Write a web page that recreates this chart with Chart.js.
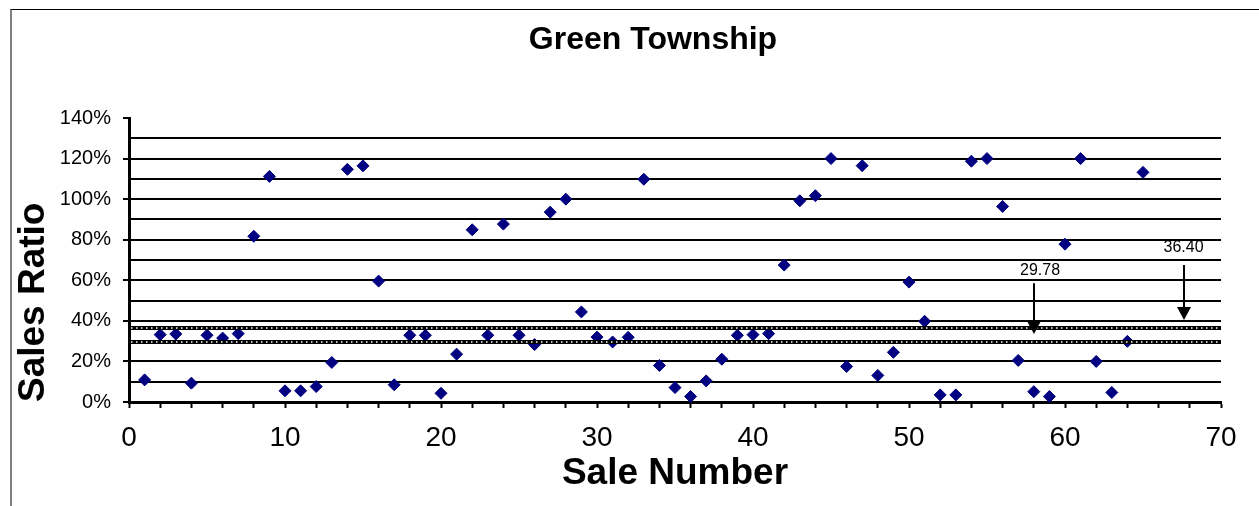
<!DOCTYPE html>
<html><head><meta charset="utf-8">
<script src="https://cdn.jsdelivr.net/npm/chart.js@4/dist/chart.umd.min.js"></script>
<style>
html,body{margin:0;padding:0;background:#fff;overflow:hidden;}
#wrap{position:relative;width:1259px;height:506px;overflow:hidden;}
#frame{position:absolute;left:10px;top:9px;width:1300px;height:600px;border-left:2px solid #808080;border-top:1px solid #000;pointer-events:none;}
canvas{position:absolute;left:0;top:0;}
</style></head><body>
<div id="wrap"><div id="frame"></div><canvas id="c" width="1259" height="506"></canvas></div>
<script>
const chartTitle = 'Green Township';
const xAxisTitle = 'Sale Number';
const yAxisTitle = 'Sales Ratio';

const saleNumbers = [1,2,3,4,5,6,7,8,9,10,11,12,13,14,15,16,17,18,19,20,
  21,22,23,24,25,26,27,28,29,30,31,32,33,34,35,36,37,38,39,40,
  41,42,43,44,45,46,47,48,49,50,51,52,53,54,55,56,57,58,59,60,
  61,62,63,64,65];
const salesRatios = [10.9,33.2,33.5,9.3,32.9,31.5,33.7,81.7,111.2,5.5,
  5.5,7.6,19.5,114.7,116.4,59.6,8.5,32.9,32.9,4.3,
  23.6,84.9,32.9,87.7,32.9,28.3,93.6,100.0,44.4,32.0,
  29.6,31.9,109.8,18.0,7.1,2.7,10.4,21.1,32.9,33.2,
  33.7,67.5,99.2,101.7,120.0,17.5,116.5,13.1,24.5,59.1,
  39.8,3.5,3.5,118.7,120.0,96.4,20.5,5.1,2.7,77.8,
  120.0,20.0,4.7,29.9,113.2];

const xLabelValues = [0,10,20,30,40,50,60,70];
const yLabelValues = [0,20,40,60,80,100,120,140];

const medianValues = [29.78, 36.40];
const medianLabels = ['29.78', '36.40'];
const arrowX = [58.0, 67.6];
const arrowTop = [58.6, 67.5];
const arrowTip = [33.5, 40.4];
const labelX = [58.4, 67.6];
const labelY = [64.6, 75.9];

const FONT = "'Liberation Sans', Arial, sans-serif";

const medianPlugin = {
  id: 'medians',
  afterDatasetsDraw(chart) {
    const {ctx, chartArea, scales} = chart;
    const x = scales.x, y = scales.y;
    ctx.save();
    medianValues.forEach(v => {
      const py = Math.round(y.getPixelForValue(v));
      ctx.setLineDash([]);
      ctx.beginPath(); ctx.moveTo(chartArea.left, py); ctx.lineTo(chartArea.right, py);
      ctx.strokeStyle = '#000'; ctx.lineWidth = 4; ctx.stroke();
      ctx.beginPath(); ctx.moveTo(chartArea.left + 2, py); ctx.lineTo(chartArea.right, py);
      ctx.strokeStyle = '#fff'; ctx.lineWidth = 1.5; ctx.setLineDash([1.5, 3.5]); ctx.stroke();
    });
    ctx.setLineDash([]);
    medianLabels.forEach((t, i) => {
      const ax = Math.round(x.getPixelForValue(arrowX[i]));
      const top = y.getPixelForValue(arrowTop[i]);
      const tip = y.getPixelForValue(arrowTip[i]);
      ctx.strokeStyle = '#000'; ctx.fillStyle = '#000'; ctx.lineWidth = 2;
      ctx.beginPath(); ctx.moveTo(ax, top); ctx.lineTo(ax, tip - 10); ctx.stroke();
      ctx.beginPath(); ctx.moveTo(ax - 7, tip - 13); ctx.lineTo(ax + 7, tip - 13); ctx.lineTo(ax, tip); ctx.closePath(); ctx.fill();
      ctx.font = '16px ' + FONT; ctx.textAlign = 'center'; ctx.textBaseline = 'middle';
      ctx.fillText(t, x.getPixelForValue(labelX[i]), y.getPixelForValue(labelY[i]));
    });
    ctx.restore();
  }
};

new Chart(document.getElementById('c'), {
  type: 'scatter',
  data: {
    datasets: [{
      data: saleNumbers.map((n, i) => ({x: n, y: salesRatios[i]})),
      backgroundColor: '#000080',
      borderColor: '#000080',
      borderWidth: 1,
      pointStyle: 'rectRot',
      pointRadius: 6,
      clip: false
    }]
  },
  options: {
    responsive: false,
    animation: false,
    devicePixelRatio: 1,
    layout: {padding: {left: 47, right: 0, top: 0, bottom: 0}},
    plugins: {
      legend: {display: false},
      tooltip: {enabled: false},
      title: {
        display: true, text: chartTitle, color: '#000',
        font: {family: FONT, size: 32, weight: 'bold', lineHeight: 1.2},
        padding: {top: 20.8, bottom: 58.8}
      }
    },
    scales: {
      x: {
        type: 'linear', position: 'bottom', min: 0, max: 70,
        afterFit: s => { s.height = 104; },
        grid: {drawOnChartArea: false, drawTicks: true, tickLength: 6, tickWidth: 2, tickColor: '#000'},
        border: {display: true, color: '#000', width: 3},
        ticks: {
          stepSize: 2, autoSkip: false, maxRotation: 0, padding: 13.2, color: '#000',
          font: {family: FONT, size: 28},
          callback: v => xLabelValues.includes(v) ? String(v) : ''
        },
        title: {
          display: true, text: xAxisTitle, color: '#000',
          font: {family: FONT, size: 37, weight: 'bold', lineHeight: 1.2},
          padding: {top: 0, bottom: 9.8}
        }
      },
      y: {
        type: 'linear', position: 'left', min: 0, max: 140,
        afterFit: s => { s.width = 82; },
        grid: {
          drawOnChartArea: true, drawTicks: true, tickLength: 6, lineWidth: 2, tickWidth: 2,
          color: c => (c.tick && (c.tick.value === 0 || c.tick.value === 140)) ? 'rgba(0,0,0,0)' : '#000',
          tickColor: c => (c.tick && yLabelValues.includes(c.tick.value)) ? '#000' : 'rgba(0,0,0,0)'
        },
        border: {display: true, color: '#000', width: 3},
        ticks: {
          stepSize: 10, autoSkip: false, padding: 12, color: '#000',
          font: {family: FONT, size: 20},
          callback: v => yLabelValues.includes(v) ? v + '%' : ''
        },
        title: {
          display: true, text: yAxisTitle, color: '#000', align: 'start',
          font: {family: FONT, size: 37, weight: 'bold', lineHeight: 1.2},
          padding: {top: -35.2, bottom: 0}
        }
      },
      yRight: {
        type: 'linear', position: 'right', display: true,
        afterFit: s => { s.width = 38; },
        grid: {display: false, drawOnChartArea: false},
        border: {display: false},
        ticks: {display: false},
        title: {display: false}
      }
    }
  },
  plugins: [medianPlugin]
});
</script>
</body></html>
